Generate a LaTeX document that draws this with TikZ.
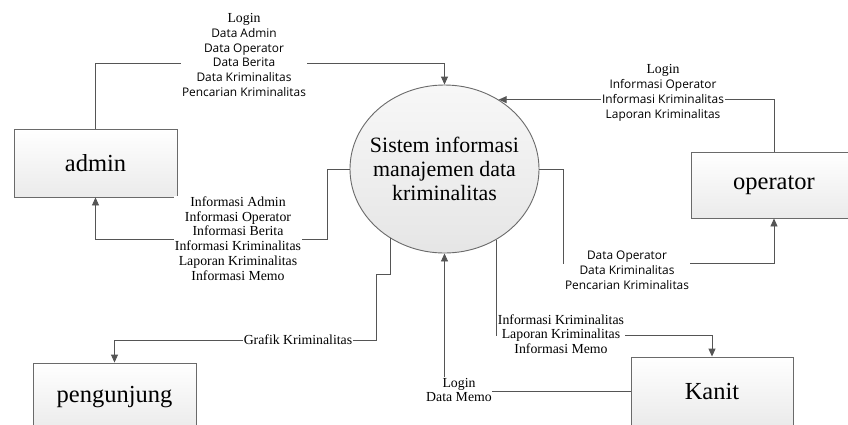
\documentclass[tikz,border=0pt]{standalone}
\usepackage{fontspec}
\setmainfont{Liberation Serif}
\newfontfamily\sansf{Open Sans}
\usetikzlibrary{arrows.meta,shapes.geometric}
\definecolor{linegray}{HTML}{555555}
\definecolor{boxgray}{HTML}{6A6A6A}
\newcommand\sfl[1]{{\sansf\fontsize{11.9}{14.8}\selectfont #1}}
\begin{document}
\begin{tikzpicture}[x=1pt,y=-1pt,
  flow/.style={draw=linegray, line width=0.9pt, -{Triangle[length=8pt,width=7pt]}},
  ent/.style={draw=boxgray, line width=0.9pt, top color=white, bottom color=gray!16, inner sep=0pt, font=\fontsize{24.5}{28}\selectfont},
  lbl/.style={fill=white, inner sep=0.6pt, align=center, font=\fontsize{13.8}{14.8}\selectfont},
  slbl/.style={fill=white, inner sep=0.6pt, align=center, font=\sansf\fontsize{11.9}{14.8}\selectfont}
]
\useasboundingbox (0,0) rectangle (848,424);
\clip (0,0) rectangle (848,424);
\fill[white] (0,0) rectangle (848,424);

% entities
\node[ent, minimum width=163, minimum height=68] (admin) at (95.5,163) {admin};
\node[ent, minimum width=166, minimum height=66] (op) at (774,185) {operator};
\node[ent, minimum width=163, minimum height=68] (peng) at (114.5,397) {pengunjung};
\node[ent, minimum width=162, minimum height=68] (kanit) at (712,391) {Kanit};

% process
\node[draw=boxgray, line width=0.9pt, ellipse, minimum width=189, minimum height=168, inner sep=0pt, top color=gray!6, bottom color=gray!20] (sys) at (444.5,169) {};
\node[align=center, font=\fontsize{21.9}{23.8}\selectfont] (systext) at (sys.center) {Sistem informasi\\manajemen data\\kriminalitas};

% connectors
\draw[flow] (admin.north) -- (admin.north |- 0,63) -| (sys.north);
\draw[flow] (sys.west) -| (327,239) -| (admin.south);
\draw[flow] (op.north) |- (sys.52);
\draw[flow] (sys.east) -| (563,263) -| (op.south);
\draw[flow] (sys.232.3) |- (376,274) -- (376,340) -| (peng.north);
\draw[flow] (sys.306.2) |- (kanit.north |- 0,335) -- (kanit.north);
\draw[flow] (kanit.west) -| (sys.south);

% labels
\node[lbl] (l1) at (244,55) {Login\\\sfl{Data Admin}\\\sfl{Data Operator}\\\sfl{Data Berita}\\\sfl{Data Kriminalitas}\\\sfl{Pencarian Kriminalitas}};
\node[lbl] (l2) at (238,238.5) {Informasi Admin\\Informasi Operator\\Informasi Berita\\Informasi Kriminalitas\\Laporan Kriminalitas\\Informasi Memo};
\node[lbl] (l3) at (663,93) {Login\\\sfl{Informasi Operator}\\\sfl{Informasi Kriminalitas}\\\sfl{Laporan Kriminalitas}};
\node[slbl] (l4) at (627,270) {Data Operator\\Data Kriminalitas\\Pencarian Kriminalitas};
\node[lbl] (l5) at (298,340) {Grafik Kriminalitas};
\node[lbl] (l6) at (561,334) {Informasi Kriminalitas\\Laporan Kriminalitas\\Informasi Memo};
\node[lbl] (l7) at (459,390) {Login\\Data Memo};
\end{tikzpicture}
\end{document}
